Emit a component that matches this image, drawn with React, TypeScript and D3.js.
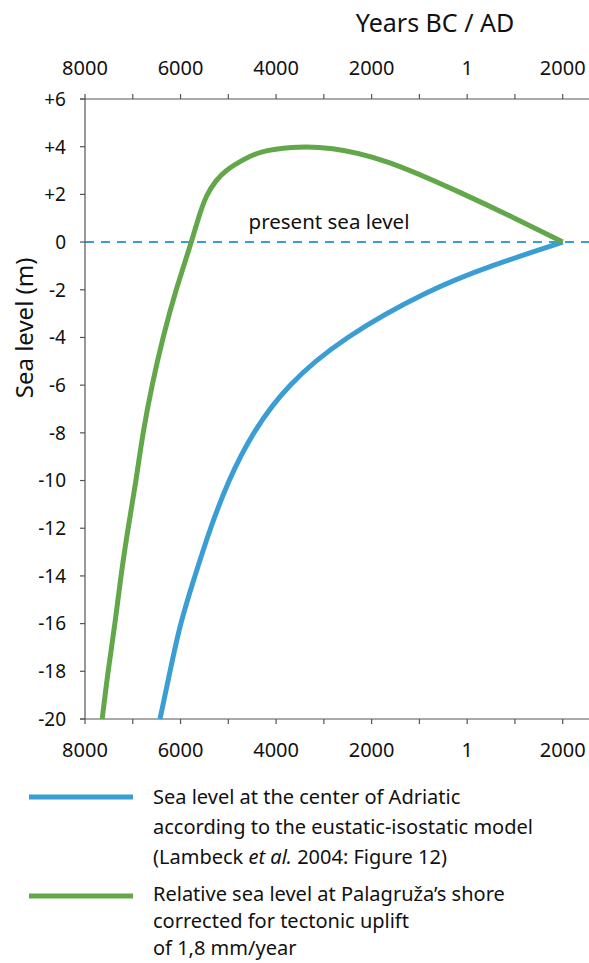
import React from 'react'
import * as d3 from 'd3'

// years: negative = BC, positive = AD
const lambeckYears = [-6430, -6220, -6010, -5700, -5380, -5000, -4500, -3780, -2600, -800, 480, 2000]
const lambeckLevels = [-20, -18, -16, -14, -12, -10, -8, -6, -4, -2, -1, 0]

const palagruzaYears = [-7640, -7520, -7370, -7250, -7100, -6930, -6790, -6600, -6370, -6100, -5770, -5630, -5460, -5250, -5070, -4650, -4340, -3710, -2870, -1720, -50, 1000, 2000]
const palagruzaLevels = [-20, -18, -16, -14, -12, -10, -8, -6, -4, -2, 0, 1, 2, 2.6, 3, 3.5, 3.8, 4, 4, 3.5, 2, 1, 0]

const yearTicks = d3.range(-8000, 2001, 1000)
const yearLabelValues = [-8000, -6000, -4000, -2000, 0, 2000]
const yearLabels = ['8000', '6000', '4000', '2000', '1', '2000']
const levelTicks = d3.range(6, -21, -2)

const legendBlue = [
  'Sea level at the center of Adriatic',
  'according to the eustatic-isostatic model',
]
const legendGreen = [
  'Relative sea level at Palagruža’s shore',
  'corrected for tectonic uplift',
  'of 1,8 mm/year',
]

const BLUE = '#3a9dd4'
const GREEN = '#63a74b'
const AXIS = '#555'
const FONT = '"Noto Sans", sans-serif'

export default function App() {
  const left = 85
  const right = 562.7
  const top = 99
  const bottom = 719

  const x = d3.scaleLinear().domain([-8000, 2000]).range([left, right])
  const y = d3.scaleLinear().domain([6, -20]).range([top, bottom])

  const line = d3.line<[number, number]>()
    .x(d => x(d[0]))
    .y(d => y(d[1]))
    .curve(d3.curveBasis)

  const blueData = lambeckYears.map((yr, i) => [yr, lambeckLevels[i]] as [number, number])
  const greenData = palagruzaYears.map((yr, i) => [yr, palagruzaLevels[i]] as [number, number])

  return (
    <svg width={589} height={963} style={{ position: 'absolute', left: 0, top: 0 }} fontFamily={FONT}>
      <rect width={589} height={963} fill="#fff" />

      {/* title */}
      <text x={435} y={32} textAnchor="middle" fontSize={25} fill="#111">Years BC / AD</text>

      {/* zero line */}
      <line x1={left} x2={589} y1={y(0)} y2={y(0)} stroke={BLUE} strokeWidth={2} strokeDasharray="9,7" />
      <text x={329} y={229} textAnchor="middle" fontSize={20.5} fill="#111">present sea level</text>

      {/* axes */}
      <g stroke={AXIS} strokeWidth={1.2}>
        <line x1={left - 5} x2={589} y1={top} y2={top} />
        <line x1={left - 5} x2={589} y1={bottom} y2={bottom} />
        <line x1={left} x2={left} y1={top} y2={bottom} />
        {yearTicks.map(t => (
          <g key={t}>
            <line x1={x(t)} x2={x(t)} y1={top} y2={top - 5} />
            <line x1={x(t)} x2={x(t)} y1={bottom} y2={bottom + 5} />
          </g>
        ))}
        {levelTicks.map(t => (
          <line key={t} x1={left - 5} x2={left} y1={y(t)} y2={y(t)} />
        ))}
      </g>

      {yearLabelValues.map((v, i) => (
        <g key={v} fontSize={20} fill="#111" textAnchor="middle">
          <text x={x(v)} y={75}>{yearLabels[i]}</text>
          <text x={x(v)} y={757}>{yearLabels[i]}</text>
        </g>
      ))}
      {levelTicks.map(t => (
        <text key={t} x={66} y={y(t)} dy="0.36em" textAnchor="end" fontSize={19} fill="#111">
          {t > 0 ? `+${t}` : `${t}`}
        </text>
      ))}

      <text transform={`translate(33,${y(-3.6)}) rotate(-90)`} textAnchor="middle" fontSize={24} fill="#111">
        Sea level (m)
      </text>

      {/* curves */}
      <path d={line(blueData) ?? ''} fill="none" stroke={BLUE} strokeWidth={5} />
      <path d={line(greenData) ?? ''} fill="none" stroke={GREEN} strokeWidth={5} />

      {/* legend */}
      <line x1={29} x2={133} y1={797} y2={797} stroke={BLUE} strokeWidth={5} />
      <g fontSize={20} fill="#111">
        {legendBlue.map((s, i) => (
          <text key={s} x={153} y={804 + i * 30}>{s}</text>
        ))}
        <text x={153} y={864}>
          (Lambeck <tspan fontStyle="italic">et al.</tspan> 2004: Figure 12)
        </text>
      </g>
      <line x1={29} x2={133} y1={896} y2={896} stroke={GREEN} strokeWidth={5} />
      <g fontSize={20} fill="#111">
        {legendGreen.map((s, i) => (
          <text key={s} x={153} y={901 + i * 27}>{s}</text>
        ))}
      </g>
    </svg>
  )
}
